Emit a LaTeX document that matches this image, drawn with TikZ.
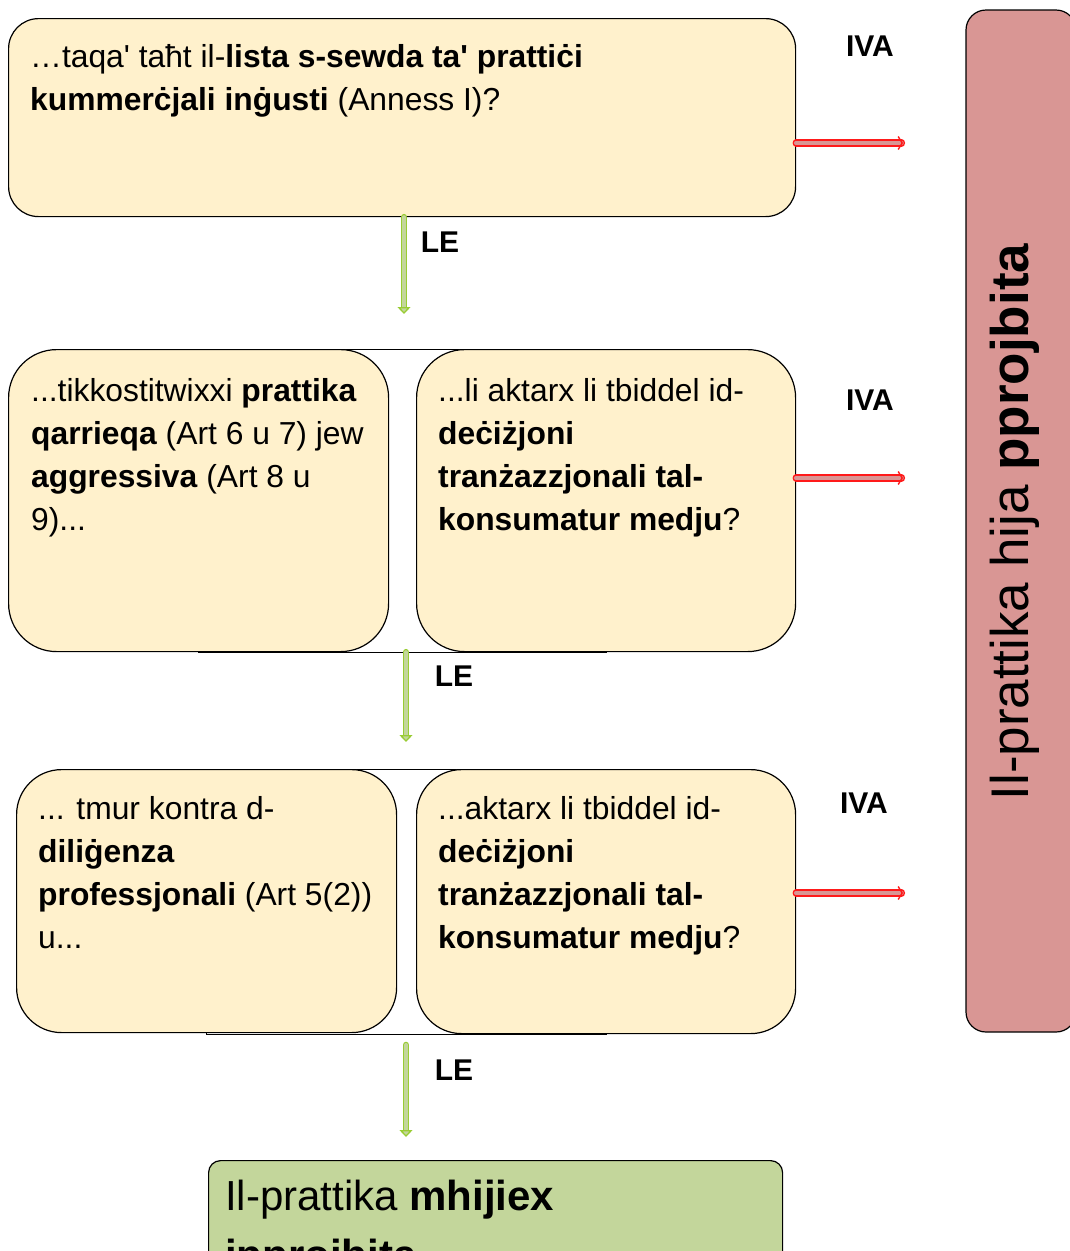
\documentclass[tikz,border=0pt]{standalone}
\usepackage{fontspec}
\setmainfont{Liberation Sans}
\usetikzlibrary{arrows.meta,positioning,backgrounds}
\definecolor{boxcream}{HTML}{FFF1CC}
\definecolor{nogreen}{HTML}{C3D69B}
\definecolor{yesred}{HTML}{D99694}
\definecolor{lestroke}{HTML}{99CC33}
\definecolor{ivastroke}{HTML}{FF1A1A}
\newcommand{\q}{\textquotesingle}
\tikzset{
  qbox/.style={draw, line width=1.2pt, fill=boxcream, rounded corners=#1,
    inner sep=0pt, anchor=north west},
  qtext/.style={anchor=north west, align=left, inner sep=0pt,
    font=\fontsize{31.8}{43}\selectfont},
  answer/.style={font=\fontsize{30}{36}\selectfont\bfseries, inner sep=0pt},
  ivaarrow/.style={draw=ivastroke, line width=1.4pt, double=yesred,
    double distance=4.5pt, -{Straight Barb[length=4pt,width=13pt]}},
  learrow/.style={draw=lestroke, line width=1.3pt, double=nogreen,
    double distance=4pt, -{Triangle[length=7pt,width=13pt,fill=nogreen]}}
}
\begin{document}
\begin{tikzpicture}[x=1pt,y=-1pt,line cap=round,line join=round]
  \clip (0,0) rectangle (1070,1251);
  % questions
  \node[qbox=30, minimum width=787pt, minimum height=198pt] (q1) at (8,18) {};
  \node[qtext] (t1) at (30,44)
    {…taqa\q{} taħt il-\textbf{lista s-sewda ta\q{} prattiċi}\\
     \textbf{kummerċjali inġusti} (Anness I)?};
  \node[qbox=48, minimum width=380pt, minimum height=302pt] (q2a) at (8,349) {};
  \node[qbox=48, minimum width=379pt, minimum height=302pt] (q2b) at (416,349) {};
  \node[qtext] (t2a) at (31,378)
    {...tikkostitwixxi \textbf{prattika}\\
     \textbf{qarrieqa} (Art 6 u 7) jew\\
     \textbf{aggressiva} (Art 8 u\\
     9)...};
  \node[qtext] (t2b) at (438,378)
    {...li aktarx li tbiddel id-\\
     \textbf{deċiżjoni}\\
     \textbf{tranżazzjonali tal-}\\
     \textbf{konsumatur medju}?};
  \node[qbox=45, minimum width=380pt, minimum height=263pt] (q3a) at (16,769) {};
  \node[qbox=45, minimum width=379pt, minimum height=264pt] (q3b) at (416,769) {};
  \node[qtext] (t3a) at (38,796)
    {... tmur kontra d-\\
     \textbf{diliġenza}\\
     \textbf{professjonali} (Art 5(2))\\
     u...};
  \node[qtext] (t3b) at (438,796)
    {...aktarx li tbiddel id-\\
     \textbf{deċiżjoni}\\
     \textbf{tranżazzjonali tal-}\\
     \textbf{konsumatur medju}?};
  \begin{scope}[on background layer]
    \draw[line width=0.8pt, fill=white] (q2a.north) rectangle (q2b.south);
    \draw[line width=0.8pt, fill=white] (q3a.north) rectangle (q3b.south);
  \end{scope}
  % outcomes
  \node[draw, line width=1.2pt, fill=yesred, rounded corners=20, rotate=90,
    minimum width=1022pt, minimum height=110pt, inner sep=0pt] (yes) at (1021,521) {};
  \node[rotate=90, inner sep=0pt, font=\fontsize{53}{60}\selectfont] (tyes) at (1015,522)
    {Il-prattika hija \textbf{pprojbita}};
  \node[draw, line width=1.2pt, fill=nogreen, rounded corners=12, inner sep=0pt,
    anchor=north west, minimum width=574pt, minimum height=170pt] (no) at (208,1160) {};
  \node[anchor=north west, align=left, inner sep=0pt,
    font=\fontsize{42}{59}\selectfont] (tno) at (225,1180)
    {Il-prattika \textbf{mhijiex}\\ \textbf{ipprojbita}};
  % IVA
  \coordinate (r1) at (903,143);
  \coordinate (r2) at (903,478);
  \coordinate (r3) at (903,893);
  \draw[ivaarrow] (q1.east |- r1) -- (r1);
  \draw[ivaarrow] (q2b.east |- r2) -- (r2);
  \draw[ivaarrow] (q3b.east |- r3) -- (r3);
  \node[answer] (iva1) at (870,46) {IVA};
  \node[answer] (iva2) at (870,400) {IVA};
  \node[answer] (iva3) at (864,803) {IVA};
  % LE
  \coordinate (g1) at (404,314);
  \coordinate (g2) at (406,742);
  \coordinate (g3s) at (406,1045);
  \coordinate (g3) at (406,1137);
  \draw[learrow] (q1.south -| g1) -- (g1);
  \draw[learrow] (q2a.south -| g2) -- (g2);
  \draw[learrow] (g3s) -- (g3);
  \node[answer] (le1) at (440,242) {LE};
  \node[answer] (le2) at (454,676) {LE};
  \node[answer] (le3) at (454,1070) {LE};
\end{tikzpicture}
\end{document}
